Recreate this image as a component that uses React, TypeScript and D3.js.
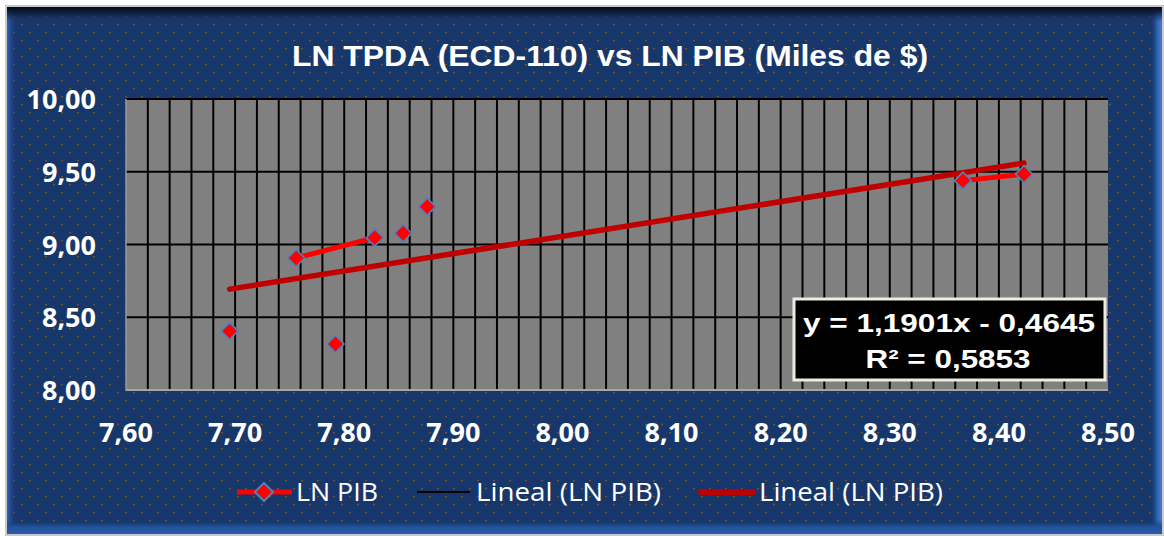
import React from "react";
import * as d3 from "d3";

const lnPib = [7.695, 7.756, 7.828, 7.792, 7.854, 7.876, 8.367, 8.423];
const lnTpda = [8.405, 8.907, 9.047, 8.316, 9.077, 9.26, 9.439, 9.484];
const lineGroup = [0, 1, 1, 2, 3, 4, 5, 5];
const xTicks = [7.6, 7.7, 7.8, 7.9, 8.0, 8.1, 8.2, 8.3, 8.4, 8.5];
const yTicks = [8.0, 8.5, 9.0, 9.5, 10.0];
const slope = 1.1901;
const intercept = -0.4645;
const titleText = "LN TPDA (ECD-110) vs LN PIB (Miles de $)";
const eqText = "y = 1,1901x - 0,4645";
const r2Text = "R² = 0,5853";
const legendLabels = ["LN PIB", "Lineal (LN PIB)", "Lineal (LN PIB)"];

const W = 1164;
const H = 536;
const fmt = (v: number) => v.toFixed(2).replace(".", ",");

export default function App() {
  const x = d3.scaleLinear().domain([7.6, 8.5]).range([126, 1108]);
  const y = d3.scaleLinear().domain([8, 10]).range([390, 99]);
  const minorX = d3.range(7.62, 8.49, 0.02);
  const [x0, x1] = d3.extent(lnPib) as [number, number];
  const trend = d3
    .line<number>()
    .x((d) => x(d))
    .y((d) => y(slope * d + intercept));
  const groups = d3.groups(
    lnPib.map((v, i) => ({ x: v, y: lnTpda[i], g: lineGroup[i] })),
    (d) => d.g
  );
  const seriesLine = d3
    .line<{ x: number; y: number }>()
    .x((d) => x(d.x))
    .y((d) => y(d.y));
  const diamond = (cx: number, cy: number, r: number) =>
    `M${cx},${cy - r}L${cx + r},${cy}L${cx},${cy + r}L${cx - r},${cy}Z`;
  const bold = "'Liberation Sans', Arial, sans-serif";
  const sans = "'Open Sans', 'Noto Sans', sans-serif";

  return (
    <div style={{ position: "absolute", left: 0, top: 0 }}>
      <svg width={W} height={H} style={{ display: "block" }}>
        <defs>
          <pattern id="dots" width={16} height={16} patternUnits="userSpaceOnUse">
            <rect x={13.2} y={-0.3} width={1.6} height={1.6} fill="#85582c" />
            <rect x={5.2} y={7.7} width={1.6} height={1.6} fill="#85582c" />
          </pattern>
          <linearGradient id="bevL" x1="0" x2="1" y1="0" y2="0">
            <stop offset="0" stopColor="#2f66bb" />
            <stop offset="1" stopColor="#17376b" stopOpacity="0" />
          </linearGradient>
          <linearGradient id="bevR" x1="1" x2="0" y1="0" y2="0">
            <stop offset="0" stopColor="#4a7cc8" />
            <stop offset="0.4" stopColor="#2d62b4" />
            <stop offset="1" stopColor="#17376b" stopOpacity="0" />
          </linearGradient>
          <linearGradient id="bevT" x1="0" x2="0" y1="0" y2="1">
            <stop offset="0" stopColor="#040914" />
            <stop offset="0.4" stopColor="#0a1a35" stopOpacity="0.8" />
            <stop offset="1" stopColor="#17376b" stopOpacity="0" />
          </linearGradient>
          <linearGradient id="bevB" x1="0" x2="0" y1="1" y2="0">
            <stop offset="0" stopColor="#2a5cad" />
            <stop offset="0.5" stopColor="#24519c" />
            <stop offset="1" stopColor="#17376b" stopOpacity="0" />
          </linearGradient>
        </defs>
        <rect x={0} y={0} width={W} height={H} fill="#ffffff" />
        <rect x={5} y={5} width={W - 5} height={H - 5} fill="#c9c9c9" />
        <rect x={7} y={7} width={1155} height={527} fill="#17376b" />
        <rect x={7} y={7} width={1155} height={527} fill="url(#dots)" />
        <rect x={7} y={7} width={10} height={527} fill="url(#bevL)" />
        <rect x={1150} y={7} width={12} height={527} fill="url(#bevR)" />
        <rect x={7} y={7} width={1155} height={15} fill="url(#bevT)" />
        <rect x={7} y={520} width={1155} height={14} fill="url(#bevB)" />

        <text
          x={610}
          y={66}
          textAnchor="middle"
          fill="#ffffff"
          fontFamily={bold}
          fontWeight="bold"
          fontSize={30}
          textLength={636}
          lengthAdjust="spacingAndGlyphs"
        >
          {titleText}
        </text>

        {/* plot area */}
        <rect x={126} y={99} width={982} height={291} fill="#808080" />
        {minorX.map((v, i) => (
          <line key={"vx" + i} x1={x(v)} x2={x(v)} y1={99} y2={390} stroke="#000" strokeWidth={2} />
        ))}
        {yTicks.slice(1).map((v) => (
          <line key={"hy" + v} x1={126} x2={1108} y1={y(v)} y2={y(v)} stroke="#000" strokeWidth={2} />
        ))}
        <line x1={126} x2={1108} y1={390} y2={390} stroke="#a6a6a6" strokeWidth={2} />
        <line x1={126} x2={126} y1={99} y2={391} stroke="#9a9a9a" strokeWidth={1.5} />

        {/* trend lines */}
        <path d={trend([x0, x1]) || ""} fill="none" stroke="#000" strokeWidth={1.5} />
        <path d={trend([x0, x1]) || ""} fill="none" stroke="#c00000" strokeWidth={5.5} strokeLinecap="round" />

        {/* series */}
        {groups.map(([g, pts]) =>
          pts.length > 1 ? (
            <path key={"s" + g} d={seriesLine(pts) || ""} fill="none" stroke="#ff0000" strokeWidth={5} />
          ) : null
        )}
        {lnPib.map((v, i) => (
          <path key={"m" + i} d={diamond(x(v), y(lnTpda[i]), 8.5)} fill="#ff0000" stroke="#4f81bd" strokeWidth={1.6} />
        ))}

        {/* y axis labels */}
        {yTicks.map((v) => (
          <text
            key={"yt" + v}
            x={96}
            y={y(v) + 10}
            textAnchor="end"
            fill="#fff"
            fontFamily={sans}
            fontWeight="bold"
            fontSize={27}
          >
            {fmt(v)}
          </text>
        ))}
        {/* x axis labels */}
        {xTicks.map((v) => (
          <text
            key={"xt" + v}
            x={x(v)}
            y={442}
            textAnchor="middle"
            fill="#fff"
            fontFamily={sans}
            fontWeight="bold"
            fontSize={27}
          >
            {fmt(v)}
          </text>
        ))}

        {/* equation box */}
        <rect x={794} y={299} width={311} height={81} fill="#000" stroke="#eeece1" strokeWidth={3} />
        <text
          x={949}
          y={332}
          textAnchor="middle"
          fill="#fff"
          fontFamily={bold}
          fontWeight="bold"
          fontSize={26}
          textLength={292}
          lengthAdjust="spacingAndGlyphs"
        >
          {eqText}
        </text>
        <text
          x={948}
          y={368}
          textAnchor="middle"
          fill="#fff"
          fontFamily={bold}
          fontWeight="bold"
          fontSize={26}
          textLength={165}
          lengthAdjust="spacingAndGlyphs"
        >
          {r2Text}
        </text>

        {/* legend */}
        <line x1={237} x2={292} y1={492} y2={492} stroke="#ff0000" strokeWidth={5} />
        <path d={diamond(264, 492, 9)} fill="#ff0000" stroke="#4f81bd" strokeWidth={2} />
        <text x={296} y={501} fill="#fff" fontFamily={sans} fontSize={25} textLength={82} lengthAdjust="spacingAndGlyphs">
          {legendLabels[0]}
        </text>
        <line x1={417} x2={470} y1={492} y2={492} stroke="#000" strokeWidth={2} />
        <text x={476} y={501} fill="#fff" fontFamily={sans} fontSize={25} textLength={185} lengthAdjust="spacingAndGlyphs">
          {legendLabels[1]}
        </text>
        <line x1={701} x2={753} y1={492} y2={492} stroke="#c00000" strokeWidth={6} strokeLinecap="round" />
        <text x={759} y={501} fill="#fff" fontFamily={sans} fontSize={25} textLength={184} lengthAdjust="spacingAndGlyphs">
          {legendLabels[2]}
        </text>
      </svg>
    </div>
  );
}
